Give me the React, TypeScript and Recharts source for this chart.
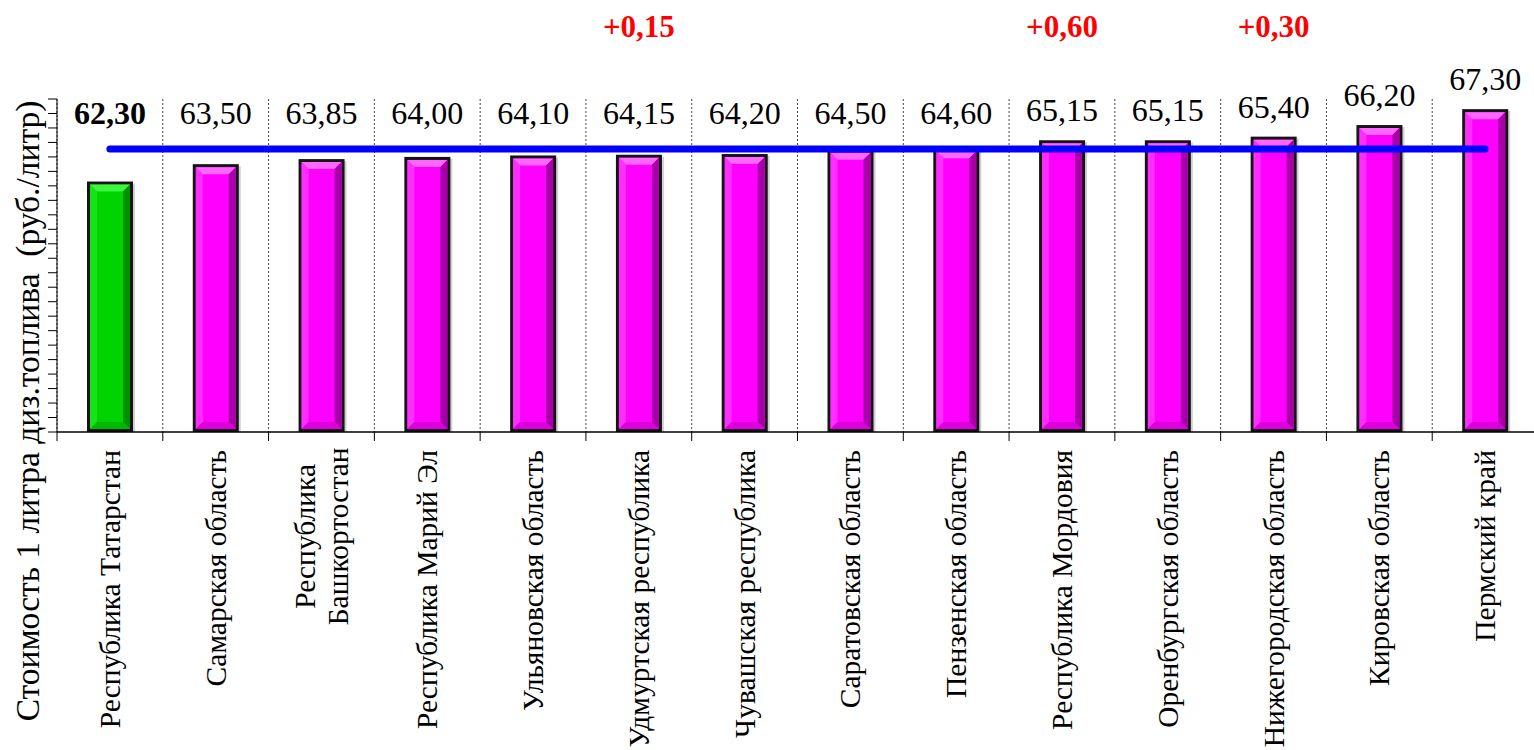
import { Bar, CartesianGrid, ComposedChart, LabelList, Line, XAxis, YAxis } from "recharts";

const regions = [
  "Республика Татарстан",
  "Самарская область",
  "Республика\nБашкортостан",
  "Республика Марий Эл",
  "Ульяновская область",
  "Удмуртская республика",
  "Чувашская республика",
  "Саратовская область",
  "Пензенская область",
  "Республика Мордовия",
  "Оренбургская область",
  "Нижегородская область",
  "Кировская область",
  "Пермский край",
];
const prices = [62.3, 63.5, 63.85, 64.0, 64.1, 64.15, 64.2, 64.5, 64.6, 65.15, 65.15, 65.4, 66.2, 67.3];
const changes = [null, null, null, null, null, 0.15, null, null, null, 0.6, null, 0.3, null, null];
const avgPrice = 64.55;
const homeRegion = "Республика Татарстан";
const yTicks = [45, 46, 47, 48, 49, 50, 51, 52, 53, 54, 55, 56, 57, 58, 59, 60, 61, 62, 63, 64, 65, 66, 67, 68];
const edgeTicks = regions.map((_, i) => i).concat(regions.length);

const data = regions.map((region, i) => ({ region, price: prices[i], change: changes[i], avg: avgPrice }));

const SERIF = "'Liberation Serif', 'DejaVu Serif', serif";
const fmt = (v: number) => v.toFixed(2).replace(".", ",");

const PAL = {
  green: { edge: "#141414", body: "#00d400", top: "#3cf53c", left: "#19e019", right: "#009000", bottom: "#00b800" },
  pink: { edge: "#141414", body: "#ff00ff", top: "#ff66ff", left: "#ff2eff", right: "#a800a8", bottom: "#dd00dd" },
};

function BevelBar(props: any) {
  const { x, y, width, height, payload } = props;
  if (!height || height <= 0) return null;
  const c = payload.region === homeRegion ? PAL.green : PAL.pink;
  const b = 3;
  const ix = x + b, iy = y + b, iw = width - 2 * b, ih = height - 2 * b;
  const bv = 7;
  return (
    <g>
      <rect x={x + 2} y={y + 2} width={width} height={height} fill="#000" opacity={0.18} />
      <rect x={x} y={y} width={width} height={height} fill={c.edge} />
      <rect x={ix} y={iy} width={iw} height={ih} fill={c.body} />
      <polygon points={`${ix},${iy} ${ix + iw},${iy} ${ix + iw - bv},${iy + bv} ${ix + bv},${iy + bv}`} fill={c.top} />
      <polygon points={`${ix},${iy} ${ix + bv},${iy + bv} ${ix + bv},${iy + ih - bv} ${ix},${iy + ih}`} fill={c.left} />
      <polygon points={`${ix + iw},${iy} ${ix + iw},${iy + ih} ${ix + iw - bv},${iy + ih - bv} ${ix + iw - bv},${iy + bv}`} fill={c.right} />
      <polygon points={`${ix},${iy + ih} ${ix + bv},${iy + ih - bv} ${ix + iw - bv},${iy + ih - bv} ${ix + iw},${iy + ih}`} fill={c.bottom} />
    </g>
  );
}

function PriceLabel(props: any) {
  const { x, y, width, value, index } = props;
  if (value == null) return null;
  const cy = Math.min(113, y - 30);
  return (
    <text x={x + width / 2} y={cy} textAnchor="middle" dominantBaseline="central" fontSize={32}
      fontWeight={index === 0 ? "bold" : "normal"} fill="#000" style={{ fontFamily: SERIF }}>
      {fmt(value)}
    </text>
  );
}

function ChangeLabel(props: any) {
  const { x, width, value } = props;
  if (value == null) return null;
  return (
    <text x={x + width / 2} y={26} textAnchor="middle" dominantBaseline="central" fontSize={31}
      fontWeight="bold" fill="#ff0000" style={{ fontFamily: SERIF }}>
      {"+" + fmt(value)}
    </text>
  );
}

function RegionTick(props: any) {
  const { x, y, payload } = props;
  const lines = String(payload.value).split("\n");
  const top = y + 10;
  const gap = 33;
  const longest = Math.max(...lines.map((l) => l.length));
  const multi = lines.length > 1;
  return (
    <g transform={`translate(${x},${top}) rotate(-90)`}>
      {lines.map((line, i) => (
        <text key={i} x={multi ? -longest * 7.2 : 0} y={(i - (lines.length - 1) / 2) * gap}
          textAnchor={multi ? "middle" : "end"} dominantBaseline="central" fontSize={29.5} fill="#000"
          style={{ fontFamily: SERIF }}>
          {line}
        </text>
      ))}
    </g>
  );
}

// dotted divider inside the plot plus a short solid tick below the axis
function Divider(props: any) {
  const { x1, y1, x2, y2 } = props;
  return (
    <g>
      <line x1={x1} y1={y1} x2={x2} y2={y2} stroke="#444" strokeWidth={1} strokeDasharray="2 2" />
      <line x1={x1} y1={y2} x2={x2} y2={y2 + 9} stroke="#000" strokeWidth={1} />
    </g>
  );
}

function NoTick() {
  return <g />;
}

function AxisTitle() {
  return (
    <text x={27} y={411} transform="rotate(-90, 27, 411)" textAnchor="middle" dominantBaseline="central"
      fontSize={33.5} fill="#000" style={{ whiteSpace: "pre", fontFamily: SERIF }}>
      {"Стоимость 1 литра диз.топлива  (руб./литр)"}
    </text>
  );
}

export default function App() {
  return (
    <div style={{ position: "absolute", left: 0, top: 0, width: 1534, height: 750, background: "#fff" }}>
      <ComposedChart width={1534} height={750} data={data} margin={{ top: 99, right: -4, left: 0, bottom: 0 }}>
        <XAxis dataKey="region" interval={0} height={318} tickLine={false}
          axisLine={{ stroke: "#000", strokeWidth: 1.5 }} tick={<RegionTick />} />
        <YAxis domain={[45, 68]} ticks={yTicks} width={57} tick={<NoTick />} tickSize={9} interval={0}
          tickLine={{ stroke: "#000", strokeWidth: 1 }} axisLine={{ stroke: "#000", strokeWidth: 1 }} allowDataOverflow
          label={{ content: () => <AxisTitle /> }} />
        <CartesianGrid horizontal={false} vertical={(p: any) => <Divider key={p.key} {...p} />}
          verticalCoordinatesGenerator={({ offset }: any) =>
            edgeTicks.map((i) => offset.left + (i * offset.width) / regions.length)} />
        <Bar dataKey="price" barSize={46} shape={<BevelBar />} isAnimationActive={false}>
          <LabelList dataKey="price" content={<PriceLabel />} />
          <LabelList dataKey="change" content={<ChangeLabel />} />
        </Bar>
        <Line dataKey="avg" stroke="#0000ff" strokeWidth={7} strokeLinecap="round" dot={false}
          activeDot={false} isAnimationActive={false} />
      </ComposedChart>
    </div>
  );
}
